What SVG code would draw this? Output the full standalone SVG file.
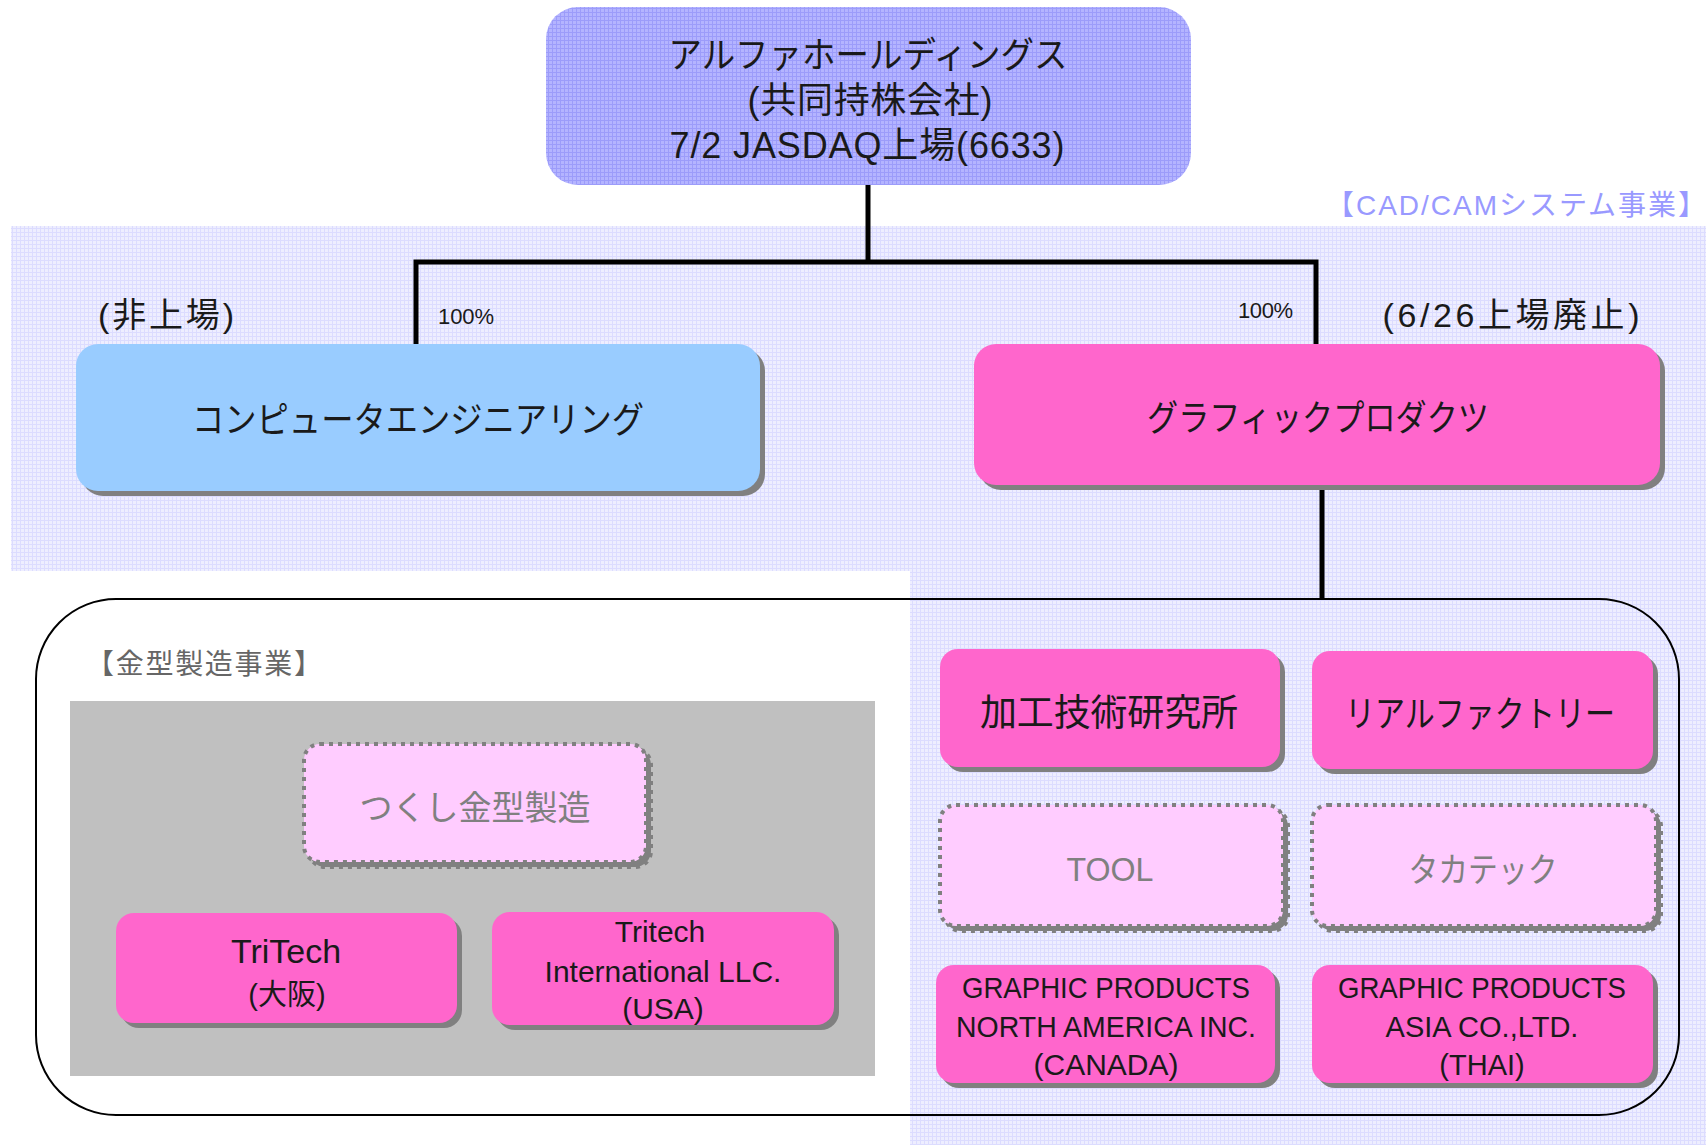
<svg xmlns="http://www.w3.org/2000/svg" width="1706" height="1145" viewBox="0 0 1706 1145">
<defs>
<pattern id="lav" width="4" height="4" patternUnits="userSpaceOnUse">
<rect width="4" height="4" fill="#eeeeff"/>
<rect width="4" height="1" fill="#dcdcff"/>
<rect width="1" height="4" fill="#dcdcff"/>
</pattern>
<pattern id="lavDark" width="4" height="4" patternUnits="userSpaceOnUse">
<rect width="4" height="4" fill="#b4b4ff"/>
<rect width="4" height="1" fill="#9c9cfa"/>
<rect width="1" height="4" fill="#9c9cfa"/>
</pattern>
</defs>
<style>
text{font-family:"Liberation Sans","Noto Sans CJK JP",sans-serif;fill:#1a1a1a;text-anchor:middle}
.shadow{fill:#808080}
.ce{fill:#99ccff}
.pink{fill:#ff66cc}
.dot{fill:#ffccff;stroke:#808080;stroke-width:4;stroke-dasharray:4 5}
.dotsh{fill:#808080;stroke:#808080;stroke-width:4;stroke-dasharray:4 5}
.lbl{font-size:22px;text-anchor:start}
.conn{fill:none;stroke:#000;stroke-width:5}
</style>
<rect width="1706" height="1145" fill="#ffffff"/>
<path id="cadcam-area" d="M11 226 H1706 V1145 H910 V571 H11 Z" fill="url(#lav)"/>
<text x="1516" y="215" font-size="28" style="fill:#9999ff" textLength="380">【CAD/CAMシステム事業】</text>

<g id="mold-area">
<rect x="70" y="701" width="805" height="375" fill="#c0c0c0"/>
<text x="204" y="674" font-size="28" style="fill:#666666" textLength="236">【金型製造事業】</text>
</g>
<rect id="group-frame" x="36" y="599" width="1643" height="516" rx="80" ry="80" fill="none" stroke="#000" stroke-width="2"/>

<g id="connectors">
<path class="conn" d="M868 185 V262"/>
<path class="conn" d="M416 346 V262 H1316 V346"/>
<path class="conn" d="M1322 485 V599"/>
</g>

<g id="n-alpha">
<rect x="546" y="7" width="645" height="178" rx="32" ry="32" fill="url(#lavDark)"/>
<text x="868" y="68" font-size="36" textLength="399" lengthAdjust="spacingAndGlyphs">アルファホールディングス</text>
<text x="870" y="113" font-size="36" textLength="245">(共同持株会社)</text>
<text x="867" y="158" font-size="36" textLength="395">7/2 JASDAQ上場(6633)</text>
</g>

<g id="n-ce">
<text x="166" y="327" font-size="34" textLength="136">(非上場)</text>
<text class="lbl" x="438" y="324" textLength="56">100%</text>
<rect class="shadow" x="81" y="349" width="684" height="147" rx="22"/>
<rect class="ce" x="76" y="344" width="684" height="147" rx="22"/>
<text x="418" y="433" font-size="36" textLength="452" lengthAdjust="spacingAndGlyphs">コンピュータエンジニアリング</text>
</g>

<g id="n-gp">
<text class="lbl" x="1238" y="318" textLength="55">100%</text>
<text x="1511" y="327" font-size="34" textLength="257">(6/26上場廃止)</text>
<rect class="shadow" x="979" y="349" width="686" height="141" rx="22"/>
<rect class="pink" x="974" y="344" width="686" height="141" rx="22"/>
<text x="1318" y="431" font-size="36" textLength="342" lengthAdjust="spacingAndGlyphs">グラフィックプロダクツ</text>
</g>

<g id="n-tsukushi">
<rect class="dotsh" x="309" y="749" width="342" height="118" rx="16"/>
<rect class="dot" x="304" y="744" width="342" height="118" rx="16"/>
<text x="475" y="820" font-size="34" style="fill:#808080" textLength="231" lengthAdjust="spacingAndGlyphs">つくし金型製造</text>
</g>

<g id="n-tritech">
<rect class="shadow" x="121" y="918" width="341" height="110" rx="18"/>
<rect class="pink" x="116" y="913" width="341" height="110" rx="18"/>
<text x="286" y="963" font-size="34">TriTech</text>
<text x="287" y="1005" font-size="29">(大阪)</text>
</g>

<g id="n-tritech-intl">
<rect class="shadow" x="497" y="917" width="342" height="113" rx="18"/>
<rect class="pink" x="492" y="912" width="342" height="113" rx="18"/>
<text x="660" y="942" font-size="30">Tritech</text>
<text x="663" y="982" font-size="30">International LLC.</text>
<text x="663" y="1019" font-size="30">(USA)</text>
</g>

<g id="n-kako">
<rect class="shadow" x="945" y="654" width="340" height="118" rx="18"/>
<rect class="pink" x="940" y="649" width="340" height="118" rx="18"/>
<text x="1109" y="726" font-size="37" textLength="258">加工技術研究所</text>
</g>

<g id="n-real">
<rect class="shadow" x="1317" y="656" width="341" height="118" rx="18"/>
<rect class="pink" x="1312" y="651" width="341" height="118" rx="18"/>
<text x="1480" y="727" font-size="36" textLength="270" lengthAdjust="spacingAndGlyphs">リアルファクトリー</text>
</g>

<g id="n-tool">
<rect class="dotsh" x="945" y="810" width="343" height="121" rx="16"/>
<rect class="dot" x="940" y="805" width="343" height="121" rx="16"/>
<text x="1110" y="881" font-size="34" style="fill:#808080" textLength="87" lengthAdjust="spacingAndGlyphs">TOOL</text>
</g>

<g id="n-takatech">
<rect class="dotsh" x="1317" y="810" width="344" height="121" rx="16"/>
<rect class="dot" x="1312" y="805" width="344" height="121" rx="16"/>
<text x="1483" y="882" font-size="34" style="fill:#808080" textLength="149" lengthAdjust="spacingAndGlyphs">タカテック</text>
</g>

<g id="n-gpna">
<rect class="shadow" x="941" y="970" width="339" height="118" rx="18"/>
<rect class="pink" x="936" y="965" width="339" height="118" rx="18"/>
<text x="1106" y="998" font-size="29" textLength="288" lengthAdjust="spacingAndGlyphs">GRAPHIC PRODUCTS</text>
<text x="1106" y="1037" font-size="29" textLength="300" lengthAdjust="spacingAndGlyphs">NORTH AMERICA INC.</text>
<text x="1106" y="1075" font-size="29" textLength="145" lengthAdjust="spacingAndGlyphs">(CANADA)</text>
</g>

<g id="n-gpa">
<rect class="shadow" x="1317" y="970" width="341" height="118" rx="18"/>
<rect class="pink" x="1312" y="965" width="341" height="118" rx="18"/>
<text x="1482" y="998" font-size="29" textLength="288" lengthAdjust="spacingAndGlyphs">GRAPHIC PRODUCTS</text>
<text x="1482" y="1037" font-size="29">ASIA CO.,LTD.</text>
<text x="1482" y="1075" font-size="29">(THAI)</text>
</g>
</svg>
